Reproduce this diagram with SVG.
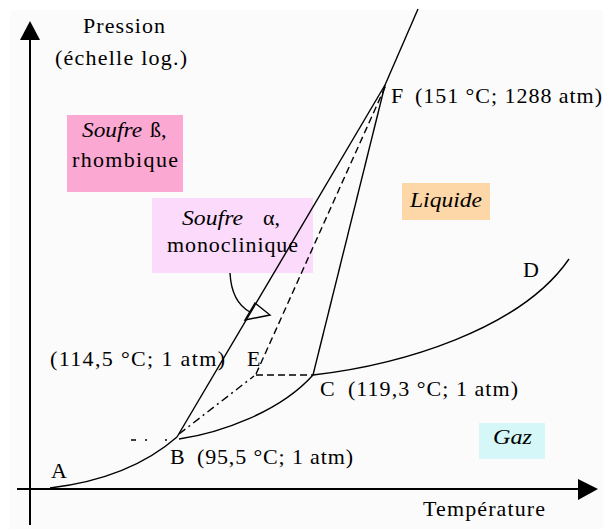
<svg xmlns="http://www.w3.org/2000/svg" width="603" height="529" viewBox="0 0 603 529">
  <style>
    text { font-family: "Liberation Serif", "Times New Roman", serif; font-size: 22px; fill: #000; }
    .it { font-style: italic; }
    .ln { fill: none; stroke: #000; stroke-width: 1.4; }
    .axis { fill: none; stroke: #000; stroke-width: 2; }
    .dash { stroke-dasharray: 7 4; }
    .dashdot { stroke-dasharray: 8 4 2 4; }
  </style>
  <rect x="0" y="0" width="603" height="529" fill="#ffffff"/>
  <rect x="10" y="10" width="593" height="519" fill="#fbfbfb"/>

  <g id="axes">
    <line class="axis" x1="30" y1="36" x2="30" y2="525"/>
    <polygon points="30,21 20,40 40,40" fill="#000"/>
    <line class="axis" x1="17" y1="489" x2="582" y2="489"/>
    <polygon points="598,489 578,479 578,500" fill="#000"/>
    <text x="83" y="33" textLength="82" lengthAdjust="spacing">Pression</text>
    <text x="55" y="65" textLength="132" lengthAdjust="spacing">(échelle log.)</text>
    <text x="423" y="516" textLength="122" lengthAdjust="spacing">Température</text>
  </g>

  <g id="region-beta">
    <rect x="67" y="115" width="116" height="77" fill="#fba8d3"/>
    <text class="it" x="82" y="137" textLength="60" lengthAdjust="spacingAndGlyphs">Soufre</text>
    <text x="150" y="137">ß,</text>
    <text x="72" y="167" textLength="106" lengthAdjust="spacing">rhombique</text>
  </g>

  <g id="region-alpha">
    <rect x="152" y="198" width="161" height="75" fill="#fcdafb"/>
    <text class="it" x="182" y="225" textLength="61" lengthAdjust="spacingAndGlyphs">Soufre</text>
    <text x="263" y="225">α,</text>
    <text x="167" y="252" textLength="131" lengthAdjust="spacing">monoclinique</text>
  </g>

  <g id="region-liquide">
    <rect x="402" y="183" width="88" height="37" fill="#fdd7a7"/>
    <text class="it" x="410" y="207" textLength="72" lengthAdjust="spacingAndGlyphs">Liquide</text>
  </g>

  <g id="region-gaz">
    <rect x="479" y="423" width="66" height="36" fill="#d5f7f8"/>
    <text class="it" x="493" y="444" textLength="39" lengthAdjust="spacingAndGlyphs">Gaz</text>
  </g>

  <g id="connectors">
    <!-- sublimation / vaporisation curve A-B-C-D -->
    <path class="ln" d="M50,488 C100,482 145,465 177,437"/>
    <path class="ln" d="M179,439 C220,433 280,412 313,375"/>
    <path class="ln" d="M313,375 C400,365 520,330 569,259"/>
    <!-- solid lines -->
    <line class="ln" x1="177" y1="437" x2="385" y2="85"/>
    <line class="ln" x1="313" y1="375" x2="385" y2="85"/>
    <line class="ln" x1="385" y1="85" x2="418" y2="9"/>
    <!-- metastable lines -->
    <line class="ln dash" x1="256" y1="375" x2="313" y2="375"/>
    <line class="ln dash" x1="256" y1="374" x2="386" y2="85"/>
    <line class="ln dashdot" x1="179" y1="434" x2="254" y2="376"/>
    <line class="ln" stroke-dasharray="5 9 2 18 2" x1="131" y1="440" x2="172" y2="440"/>
    <!-- pointer from alpha label -->
    <path class="ln" d="M230,273 C231,292 237,305 250,312"/>
    <polygon class="ln" points="255,303 270,315 245,320" fill="#fbfbfb"/>
  </g>

  <g id="point-A"><text x="51" y="478">A</text></g>
  <g id="point-B">
    <text x="170" y="464">B</text>
    <text x="197" y="464" textLength="156" lengthAdjust="spacing">(95,5 °C; 1  atm)</text>
  </g>
  <g id="point-C">
    <text x="320" y="396">C</text>
    <text x="348" y="396" textLength="170" lengthAdjust="spacing">(119,3 °C; 1 atm)</text>
  </g>
  <g id="point-D"><text x="523" y="277">D</text></g>
  <g id="point-E">
    <text x="50" y="366" textLength="175" lengthAdjust="spacing">(114,5  °C; 1 atm)</text>
    <text x="247" y="366">E</text>
  </g>
  <g id="point-F">
    <text x="391" y="103">F</text>
    <text x="415" y="103" textLength="187" lengthAdjust="spacing">(151 °C; 1288 atm)</text>
  </g>
</svg>
